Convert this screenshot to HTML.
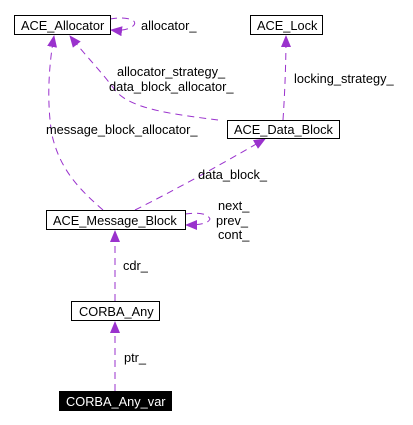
<!DOCTYPE html>
<html><head><style>
html,body{margin:0;padding:0;background:#fff;width:413px;height:425px;overflow:hidden}
text{font-family:"Liberation Sans",sans-serif;font-size:12.8px;fill:#000}
</style></head><body>
<svg width="413" height="425" viewBox="0 0 413 425" xmlns="http://www.w3.org/2000/svg">
<defs>
<marker id="a" markerWidth="12" markerHeight="10" refX="11" refY="5" orient="auto" markerUnits="userSpaceOnUse">
<path d="M0,0 L12,5 L0,10 z" fill="#9a32cd"/>
</marker>
</defs>
<g fill="none" stroke="#9a32cd" stroke-width="1" stroke-dasharray="7,5" marker-end="url(#a)">
<path d="M110,19 C125,16 140,20 133,26 C128,30 120,31 111,30"/>
<path d="M103,210 C80,190 60,170 52,135 C47,105 48,70 54,36"/>
<path d="M218,120 C180,115 130,110 115,90 C100,70 85,55 70,36"/>
<path d="M283,120 C285,90 286,60 286,36"/>
<path d="M135,210 C175,190 220,165 265,139"/>
<path d="M185,214 C200,212 208,214 210,219 C208,224 198,225 186,225"/>
<path d="M115,301 L115,231"/>
<path d="M115,391 L115,322"/>
</g>
<g fill="#fff" stroke="#000" stroke-width="1">
<rect x="14.5" y="15.5" width="96" height="19"/>
<rect x="250.5" y="15.5" width="72" height="19"/>
<rect x="227.5" y="120.5" width="112" height="18"/>
<rect x="46.5" y="210.5" width="139" height="19"/>
<rect x="71.5" y="301.5" width="88" height="19"/>
</g>
<rect x="59" y="391" width="113" height="20" fill="#000"/>
<text x="21" y="30">ACE_Allocator</text>
<text x="257" y="30">ACE_Lock</text>
<text x="234" y="134">ACE_Data_Block</text>
<text x="53" y="225">ACE_Message_Block</text>
<text x="79" y="316">CORBA_Any</text>
<text x="66" y="406" style="fill:#fff">CORBA_Any_var</text>
<text x="141" y="30">allocator_</text>
<text x="117" y="76">allocator_strategy_</text>
<text x="109" y="91">data_block_allocator_</text>
<text x="294" y="83">locking_strategy_</text>
<text x="46" y="134">message_block_allocator_</text>
<text x="198" y="179">data_block_</text>
<text x="218" y="210">next_</text>
<text x="216" y="225">prev_</text>
<text x="218" y="239">cont_</text>
<text x="123" y="270">cdr_</text>
<text x="124" y="362">ptr_</text>
</svg>
</body></html>
